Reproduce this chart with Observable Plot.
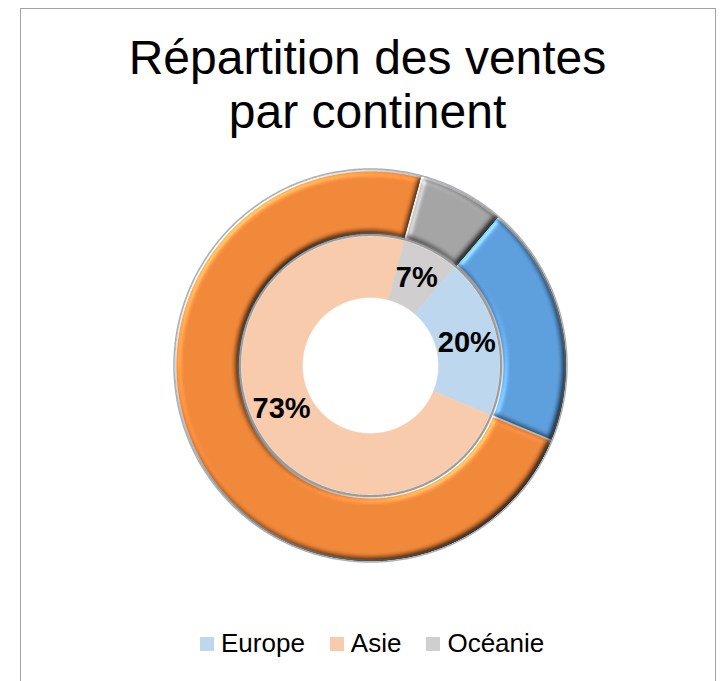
<!DOCTYPE html>
<html>
<head>
<meta charset="utf-8">
<script src="https://cdn.jsdelivr.net/npm/d3@7"></script>
<script src="https://cdn.jsdelivr.net/npm/@observablehq/plot@0.6"></script>
<style>
  html, body { margin: 0; padding: 0; background: #fff; width: 723px; height: 681px; overflow: hidden;
    font-family: "Liberation Sans", Arial, Helvetica, sans-serif; }
  #frame { position: absolute; left: 20px; top: 8px; width: 696px; height: 700px;
    border: 1.5px solid #a3a3a3; box-sizing: border-box; }
  #titre { position: absolute; left: 20px; width: 695px; top: 31px; text-align: center;
    font-size: 48px; line-height: 54px; color: #000; }
  #chart { position: absolute; left: 0; top: 150px; }
  #legende { position: absolute; left: 200px; top: 630px; font-size: 26px; line-height: 26px;
    white-space: nowrap; color: #000; }
  #legende .item { display: inline-block; margin-right: 25px; }
  #legende .item:last-child { margin-right: 0; }
  #legende .sw { display: inline-block; width: 14px; height: 14px; margin-right: 7px;
    vertical-align: baseline; position: relative; top: -1px; }
</style>
</head>
<body>
<div id="frame"></div>
<div id="titre">Répartition des ventes<br>par continent</div>
<div id="chart"></div>
<div id="legende"></div>
<script>
// ---- Données ----
const continents = ["Europe", "Asie", "Océanie"];
const ventes = [20, 73, 7]; // en %
const couleursInt = ["#BDD7EE", "#F8CBAD", "#D0CECE"];
const couleursExt = ["#579BDA", "#EF8333", "#A0A0A0"];

// ---- Mise en page ----
const W = 723, H = 430;
const cx = 370, cy = 215;
const R_OUT = 195, R_MID_OUT = 132, R_MID_IN = 129, R_IN = 68, R_LABEL = 99;
const startDeg = 40.5;

const data = continents.map((c, i) => ({continent: c, v: ventes[i]}));
const total = d3.sum(ventes);
const pie = d3.pie().sort(null).value(d => d.v)
  .startAngle(startDeg * Math.PI / 180)
  .endAngle(startDeg * Math.PI / 180 + 2 * Math.PI);
const arcs = pie(data);

function ringPoints(r0, r1) {
  const pts = [];
  for (const a of arcs) {
    const n = Math.max(2, Math.ceil((a.endAngle - a.startAngle) / (Math.PI / 360)));
    for (let k = 0; k <= n; k++) {
      const t = a.startAngle + (a.endAngle - a.startAngle) * k / n;
      pts.push({key: a.data.continent, x: r1 * Math.sin(t), y: r1 * Math.cos(t)});
    }
    for (let k = n; k >= 0; k--) {
      const t = a.startAngle + (a.endAngle - a.startAngle) * k / n;
      pts.push({key: a.data.continent, x: r0 * Math.sin(t), y: r0 * Math.cos(t)});
    }
  }
  return pts;
}
function circlePoints(r) {
  return d3.range(0, 721).map(k => {
    const t = k * Math.PI / 360;
    return {x: r * Math.sin(t), y: r * Math.cos(t)};
  });
}

const inner = ringPoints(R_IN, R_MID_IN);
const outer = ringPoints(R_MID_OUT, R_OUT);
const labels = arcs.map(a => {
  const m = (a.startAngle + a.endAngle) / 2;
  return {continent: a.data.continent, x: R_LABEL * Math.sin(m), y: R_LABEL * Math.cos(m),
          text: d3.format(".0%")(a.data.v / total)};
});

const svg = Plot.plot({
  width: W, height: H, margin: 0,
  x: {domain: [-cx, W - cx], axis: null},
  y: {domain: [-(H - cy), cy], axis: null},
  color: {domain: continents, range: couleursInt},
  marks: [
    // anneau intérieur
    Plot.line(inner, {x: "x", y: "y", z: "key", fill: "key", stroke: "key", strokeWidth: 0.5, curve: "linear-closed"}),
    // anneau extérieur (une marque par continent)
    ...continents.map((c, i) => Plot.line(outer.filter(d => d.key === c),
      {x: "x", y: "y", fill: couleursExt[i], stroke: "#cfcfcf", strokeWidth: 2, curve: "linear-closed"})),
    // contours
    Plot.line(circlePoints(R_OUT + 1.5), {x: "x", y: "y", stroke: "#a9b0b6", strokeWidth: 1.5}),
    Plot.line(circlePoints((R_MID_IN + R_MID_OUT) / 2), {x: "x", y: "y", stroke: "#9c9c9c", strokeWidth: 2.2}),
    // étiquettes
    Plot.text(labels, {x: "x", y: "y", text: "text", fontSize: 29, fontWeight: "bold", fill: "#000",
      fontFamily: "Liberation Sans, Arial, sans-serif"})
  ]
});

// effet biseauté sur l'anneau extérieur
const ns = "http://www.w3.org/2000/svg";
const defs = document.createElementNS(ns, "defs");
defs.innerHTML = `
<filter id="bevel" x="-5%" y="-5%" width="110%" height="110%" color-interpolation-filters="sRGB">
  <feGaussianBlur in="SourceAlpha" stdDeviation="3" result="blur"/>
  <feDiffuseLighting in="blur" surfaceScale="4" diffuseConstant="1" lighting-color="#ffffff" result="diff">
    <feDistantLight azimuth="225" elevation="55"/>
  </feDiffuseLighting>
  <feComposite in="SourceGraphic" in2="diff" operator="arithmetic" k1="1.18" k2="0" k3="0" k4="0" result="shaded"/>
  <feSpecularLighting in="blur" surfaceScale="4" specularConstant="0.5" specularExponent="20" lighting-color="#ffffff" result="spec">
    <feDistantLight azimuth="225" elevation="45"/>
  </feSpecularLighting>
  <feComposite in="spec" in2="SourceAlpha" operator="in" result="specIn"/>
  <feComposite in="shaded" in2="specIn" operator="arithmetic" k1="0" k2="1" k3="0.4" k4="0" result="lit"/>
  <feComposite in="lit" in2="SourceAlpha" operator="in"/>
</filter>`;
svg.insertBefore(defs, svg.firstChild);
const extLower = couleursExt.map(c => c.toLowerCase());
svg.querySelectorAll("g").forEach(g => {
  const f = (g.getAttribute("fill") || "").toLowerCase();
  if (extLower.includes(f)) g.setAttribute("filter", "url(#bevel)");
});

document.getElementById("chart").appendChild(svg);

// légende
const leg = document.getElementById("legende");
continents.forEach((c, i) => {
  const it = document.createElement("span");
  it.className = "item";
  const sw = document.createElement("span");
  sw.className = "sw";
  sw.style.background = couleursInt[i];
  it.appendChild(sw);
  it.appendChild(document.createTextNode(c));
  leg.appendChild(it);
});
</script>
</body>
</html>
